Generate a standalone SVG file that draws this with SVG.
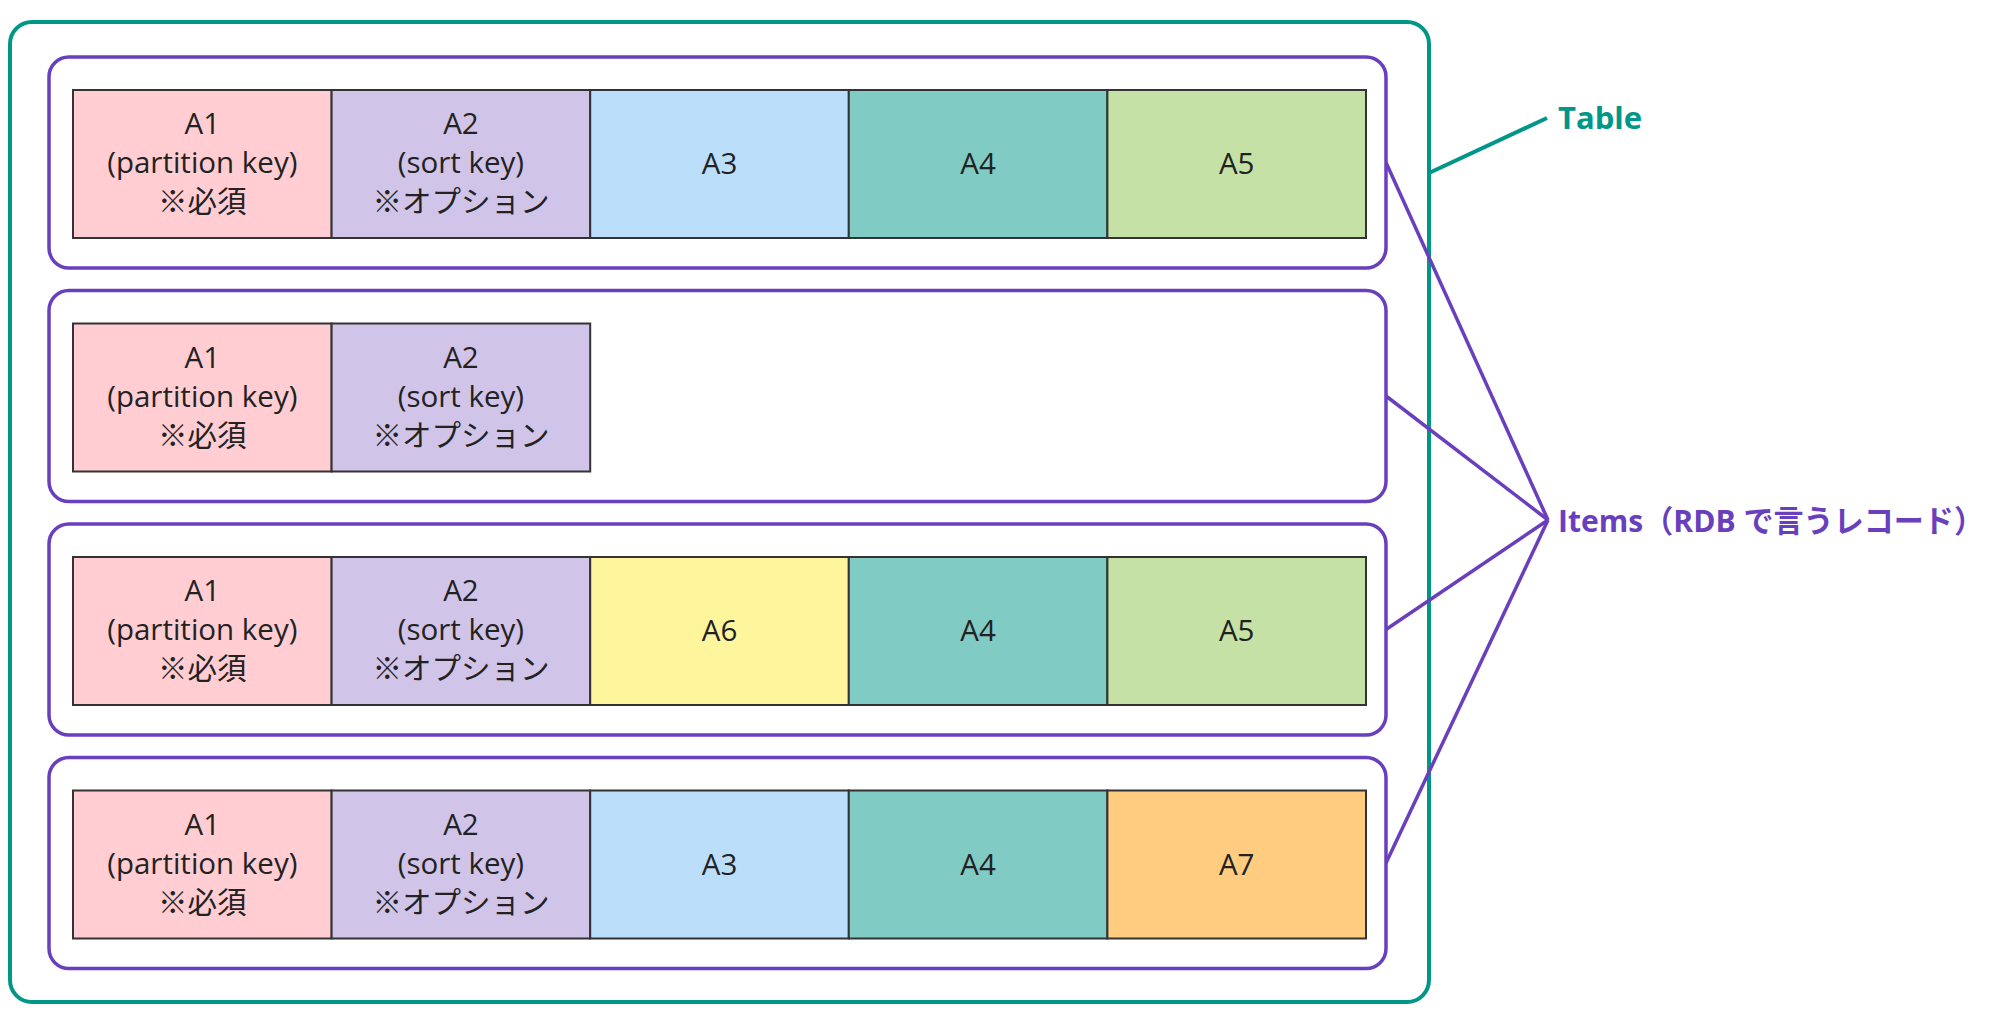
<svg xmlns="http://www.w3.org/2000/svg" width="2000" height="1016" viewBox="0 0 2000 1016">
<style>
.table{fill:#fff;stroke:#009688;stroke-width:4}
.item{fill:#fff;stroke:#6a3fbe;stroke-width:3.5}
.cell{stroke:#333;stroke-width:2}
.t{font-family:"Open Sans","Noto Sans CJK JP",sans-serif;font-size:29.5px;fill:#222;text-anchor:middle}
.lbl{font-family:"Open Sans","Noto Sans CJK JP",sans-serif;font-size:31px;font-weight:bold}
.c1{fill:#ffcdd2}.c2{fill:#d1c4e9}.c3{fill:#bbdefb}.c4{fill:#80cbc4}.c5{fill:#c5e1a5}.c6{fill:#fff59d}.c7{fill:#ffcc80}
</style>
<rect width="2000" height="1016" fill="#fff"/>
<g id="table">
<rect class="table" x="10" y="22" width="1419" height="980" rx="22"/>
</g>
<g id="connectors" fill="none">
<line x1="1429" y1="173" x2="1547" y2="118" stroke="#009688" stroke-width="4"/>
<g stroke="#6a3fbe" stroke-width="3.5">
<line x1="1386" y1="162.5" x2="1548" y2="520"/>
<line x1="1386" y1="396" x2="1548" y2="520"/>
<line x1="1386" y1="629.5" x2="1548" y2="520"/>
<line x1="1386" y1="863" x2="1548" y2="520"/>
</g>
</g>
<g id="item1">
<rect class="item" x="49" y="57" width="1337" height="211" rx="20"/>
<rect class="cell c1" x="73" y="90" width="258.6" height="148"/>
<rect class="cell c2" x="331.6" y="90" width="258.6" height="148"/>
<rect class="cell c3" x="590.2" y="90" width="258.6" height="148"/>
<rect class="cell c4" x="848.8" y="90" width="258.6" height="148"/>
<rect class="cell c5" x="1107.4" y="90" width="258.6" height="148"/>
<text class="t" x="202.3" y="134">A1</text><text class="t" x="202.3" y="173">(partition key)</text><text class="t" x="202.3" y="212">※必須</text>
<text class="t" x="460.9" y="134">A2</text><text class="t" x="460.9" y="173">(sort key)</text><text class="t" x="460.9" y="212">※オプション</text>
<text class="t" x="719.5" y="174">A3</text>
<text class="t" x="978.1" y="174">A4</text>
<text class="t" x="1236.7" y="174">A5</text>
</g>
<g id="item2">
<rect class="item" x="49" y="290.5" width="1337" height="211" rx="20"/>
<rect class="cell c1" x="73" y="323.5" width="258.6" height="148"/>
<rect class="cell c2" x="331.6" y="323.5" width="258.6" height="148"/>
<text class="t" x="202.3" y="367.5">A1</text><text class="t" x="202.3" y="406.5">(partition key)</text><text class="t" x="202.3" y="445.5">※必須</text>
<text class="t" x="460.9" y="367.5">A2</text><text class="t" x="460.9" y="406.5">(sort key)</text><text class="t" x="460.9" y="445.5">※オプション</text>
</g>
<g id="item3">
<rect class="item" x="49" y="524" width="1337" height="211" rx="20"/>
<rect class="cell c1" x="73" y="557" width="258.6" height="148"/>
<rect class="cell c2" x="331.6" y="557" width="258.6" height="148"/>
<rect class="cell c6" x="590.2" y="557" width="258.6" height="148"/>
<rect class="cell c4" x="848.8" y="557" width="258.6" height="148"/>
<rect class="cell c5" x="1107.4" y="557" width="258.6" height="148"/>
<text class="t" x="202.3" y="601">A1</text><text class="t" x="202.3" y="640">(partition key)</text><text class="t" x="202.3" y="679">※必須</text>
<text class="t" x="460.9" y="601">A2</text><text class="t" x="460.9" y="640">(sort key)</text><text class="t" x="460.9" y="679">※オプション</text>
<text class="t" x="719.5" y="641">A6</text>
<text class="t" x="978.1" y="641">A4</text>
<text class="t" x="1236.7" y="641">A5</text>
</g>
<g id="item4">
<rect class="item" x="49" y="757.5" width="1337" height="211" rx="20"/>
<rect class="cell c1" x="73" y="790.5" width="258.6" height="148"/>
<rect class="cell c2" x="331.6" y="790.5" width="258.6" height="148"/>
<rect class="cell c3" x="590.2" y="790.5" width="258.6" height="148"/>
<rect class="cell c4" x="848.8" y="790.5" width="258.6" height="148"/>
<rect class="cell c7" x="1107.4" y="790.5" width="258.6" height="148"/>
<text class="t" x="202.3" y="834.5">A1</text><text class="t" x="202.3" y="873.5">(partition key)</text><text class="t" x="202.3" y="912.5">※必須</text>
<text class="t" x="460.9" y="834.5">A2</text><text class="t" x="460.9" y="873.5">(sort key)</text><text class="t" x="460.9" y="912.5">※オプション</text>
<text class="t" x="719.5" y="874.5">A3</text>
<text class="t" x="978.1" y="874.5">A4</text>
<text class="t" x="1236.7" y="874.5">A7</text>
</g>
<g id="label-table"><text class="lbl" x="1558" y="129" fill="#009688">Table</text></g>
<g id="label-items"><text class="lbl" x="1558" y="532" fill="#6a3fbe" textLength="426" lengthAdjust="spacingAndGlyphs">Items（RDB で言うレコード）</text></g>
</svg>
